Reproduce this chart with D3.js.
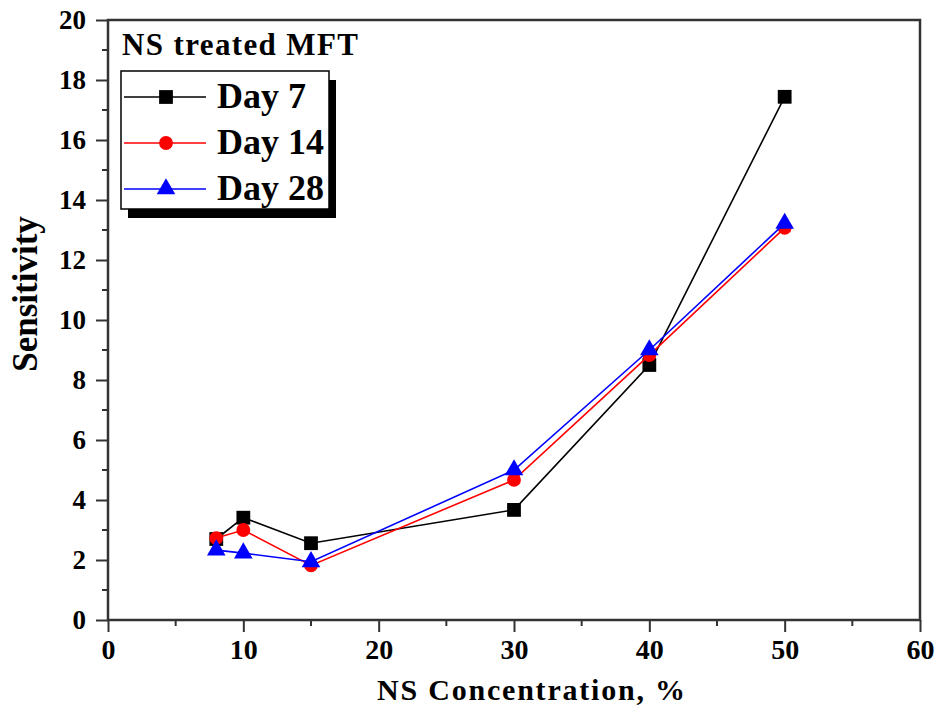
<!DOCTYPE html>
<html>
<head>
<meta charset="utf-8">
<script src="https://cdn.jsdelivr.net/npm/d3@7"></script>
<style>
  html, body { margin: 0; padding: 0; background: #fff; }
  svg { display: block; }
  text { font-family: "Liberation Serif", "Times New Roman", serif; font-weight: bold; fill: #000; }
</style>
</head>
<body>
<svg id="chart" width="941" height="713"></svg>
<script>
// NS concentration (%) on the x axis
const concentrations = [8, 10, 15, 30, 40, 50];
// Sensitivity by curing age
const day7  = [2.70, 3.41, 2.56, 3.67, 8.50, 17.44];
const day14 = [2.73, 3.00, 1.82, 4.67, 8.83, 13.07];
const day28 = [2.33, 2.23, 1.94, 5.00, 9.00, 13.22];
const seriesNames = ["Day 7", "Day 14", "Day 28"];
const xTicks = [0, 10, 20, 30, 40, 50, 60];
const yTicks = [0, 2, 4, 6, 8, 10, 12, 14, 16, 18, 20];

const svg = d3.select("#chart");
const plotLeft = 108, plotRight = 920, plotTop = 20, plotBottom = 620;

const x = d3.scaleLinear().domain([0, 60]).range([plotLeft, plotRight]);
const y = d3.scaleLinear().domain([0, 20]).range([plotBottom, plotTop]);

const frameColor = "#333";

// minor ticks
const xMinor = d3.range(5, 60, 10);
const yMinor = d3.range(1, 20, 2);

// x axis
const xAxis = d3.axisBottom(x).tickValues(xTicks).tickSize(12).tickPadding(10).tickFormat(d3.format("d"));
const gx = svg.append("g").attr("transform", `translate(0,${plotBottom})`).call(xAxis);
gx.select(".domain").remove();
gx.selectAll(".tick line").attr("stroke", frameColor).attr("stroke-width", 2);
gx.selectAll(".tick text").attr("font-size", 28).attr("font-family", "Liberation Serif").attr("font-weight", "bold").attr("fill", "#000").attr("dy", "0.62em");
gx.selectAll(".minor").data(xMinor).enter().append("line")
  .attr("x1", d => x(d)).attr("x2", d => x(d)).attr("y1", 0).attr("y2", 6)
  .attr("stroke", frameColor).attr("stroke-width", 2);

// y axis
const yAxis = d3.axisLeft(y).tickValues(yTicks).tickSize(12).tickPadding(10).tickFormat(d3.format("d"));
const gy = svg.append("g").attr("transform", `translate(${plotLeft},0)`).call(yAxis);
gy.select(".domain").remove();
gy.selectAll(".tick line").attr("stroke", frameColor).attr("stroke-width", 2);
gy.selectAll(".tick text").attr("font-size", 27).attr("font-family", "Liberation Serif").attr("font-weight", "bold").attr("fill", "#000");
gy.selectAll(".minor").data(yMinor).enter().append("line")
  .attr("y1", d => y(d)).attr("y2", d => y(d)).attr("x1", 0).attr("x2", -6)
  .attr("stroke", frameColor).attr("stroke-width", 2);

// frame
svg.append("rect")
  .attr("x", plotLeft).attr("y", plotTop)
  .attr("width", plotRight - plotLeft).attr("height", plotBottom - plotTop)
  .attr("fill", "none").attr("stroke", frameColor).attr("stroke-width", 2.5);

// axis titles
svg.append("text")
  .attr("x", 377).attr("y", 700)
  .attr("font-size", 30)
  .attr("textLength", 308).attr("lengthAdjust", "spacing")
  .text("NS Concentration, %");

svg.append("text")
  .attr("transform", "translate(37,294) rotate(-90)")
  .attr("text-anchor", "middle")
  .attr("font-size", 35)
  .text("Sensitivity");

// series
const series = [
  { name: seriesNames[0], values: day7,  color: "#000000", shape: d3.symbolSquare,   size: 190 },
  { name: seriesNames[1], values: day14, color: "#ff0000", shape: d3.symbolCircle,   size: 150 },
  { name: seriesNames[2], values: day28, color: "#0000ff", shape: d3.symbolTriangle, size: 150 }
];

const line = d3.line().x(d => x(d[0])).y(d => y(d[1]));

series.forEach(s => {
  const pts = concentrations.map((c, i) => [c, s.values[i]]);
  svg.append("path")
    .attr("d", line(pts))
    .attr("fill", "none")
    .attr("stroke", s.color)
    .attr("stroke-width", 1.6);
  svg.append("g").selectAll("path").data(pts).enter().append("path")
    .attr("transform", d => `translate(${x(d[0])},${y(d[1])})`)
    .attr("d", d3.symbol().type(s.shape).size(s.size))
    .attr("fill", s.color);
});

// annotation
svg.append("text")
  .attr("x", 122).attr("y", 55)
  .attr("font-size", 31)
  .attr("textLength", 236).attr("lengthAdjust", "spacing")
  .text("NS treated MFT");

// legend with drop shadow
const lg = svg.append("g");
const lx = 121, ly = 71, lw = 208, lh = 138;
lg.append("rect").attr("x", lx + 7).attr("y", ly + 9).attr("width", lw).attr("height", lh).attr("fill", "#000");
lg.append("rect").attr("x", lx).attr("y", ly).attr("width", lw).attr("height", lh)
  .attr("fill", "#fff").attr("stroke", "#000").attr("stroke-width", 1.5);

series.forEach((s, i) => {
  const cy = 97 + i * 46;
  lg.append("line").attr("x1", 124).attr("x2", 206).attr("y1", cy).attr("y2", cy)
    .attr("stroke", s.color).attr("stroke-width", 1.6);
  lg.append("path")
    .attr("transform", `translate(166,${cy})`)
    .attr("d", d3.symbol().type(s.shape).size(s.size))
    .attr("fill", s.color);
  lg.append("text")
    .attr("x", 217).attr("y", cy + 11)
    .attr("font-size", 36)
    .text(s.name);
});
</script>
</body>
</html>
